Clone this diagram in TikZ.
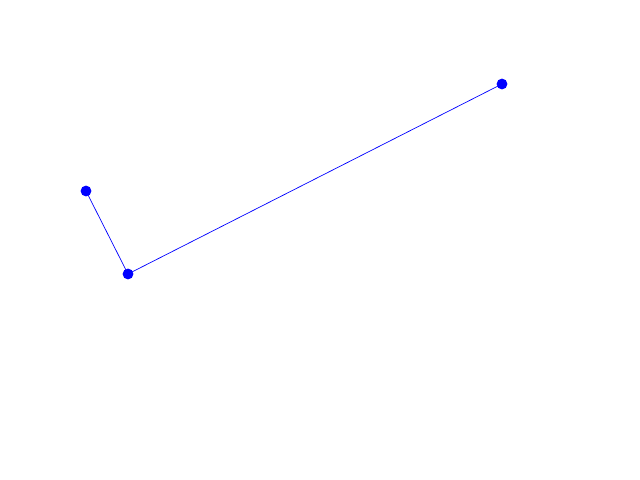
\documentclass[tikz,border=0pt]{standalone}
\usepackage{tikz}
\definecolor{pBlue}{HTML}{0000FF}
\begin{document}
\begin{tikzpicture}[x=0.025cm, y=-0.025cm]
  \useasboundingbox (0,0) rectangle (640,480);
  \foreach \name/\x/\y in {p1/86/191, p2/128/274, p3/502/84} {\node[circle, fill=pBlue, inner sep=0pt, minimum size=0.27cm]
    (\name) at (\x,\y) {};}
  \draw[pBlue, line width=0.5pt] (p1.center) -- (p2.center) -- (p3.center);
\end{tikzpicture}
\end{document}
